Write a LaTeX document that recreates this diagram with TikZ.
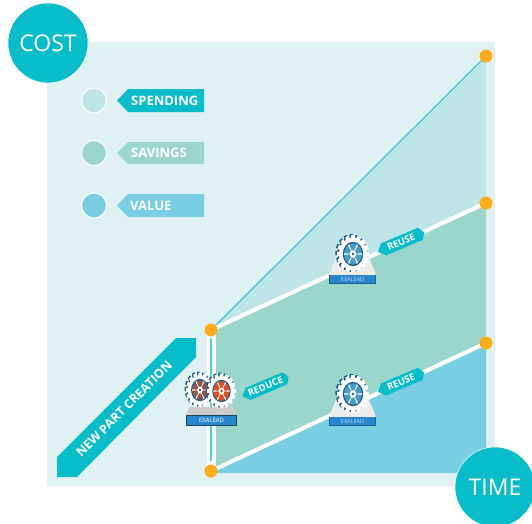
\documentclass[tikz,border=0pt]{standalone}
\usepackage{fontspec}
\setmainfont{Open Sans}
\usetikzlibrary{positioning}

\definecolor{paleback}{HTML}{E0F1F4}
\definecolor{spendcol}{HTML}{C0E5E9}
\definecolor{savecol}{HTML}{9BD6CC}
\definecolor{valuecol}{HTML}{79CEE4}
\definecolor{tealcol}{HTML}{08BDC9}
\definecolor{orangecol}{HTML}{FDAD1B}
\definecolor{gearblue}{HTML}{4A9AC6}
\definecolor{geardark}{HTML}{1F5F85}
\definecolor{gearred}{HTML}{D9502A}
\definecolor{barblue}{HTML}{2A86CC}

\tikzset{
  bigdisc/.style={circle, fill=tealcol, draw=white, line width=0.5pt, minimum size=80pt, inner sep=0pt, text=white, font=\fontsize{23}{23}\selectfont},
  swatch/.style={circle, draw=white, line width=1pt, minimum size=25pt, inner sep=0pt},
  dot/.style={circle, fill=orangecol, minimum size=13pt, inner sep=0pt},
  taglabel/.style={text=white, font=\fontsize{13}{14}\selectfont\bfseries},
  smalltag/.style={text=white, font=\fontsize{9.5}{10}\selectfont\bfseries},
  % one toothed wheel, radius 1 before scaling, #1 = colour of its middle
  wheel/.pic={
    \begin{scope}[shift={(-0.1,-0.05)}]
      \foreach \a in {0,22.5,...,337.5}
        \fill[geardark] (\a-10:0.8) -- (\a-6:1) -- (\a+6:1) -- (\a+10:0.8) -- cycle;
      \fill[geardark] (0,0) circle (0.85);
    \end{scope}
    \foreach \a in {0,22.5,...,337.5}
      \fill[white] (\a-10:0.8) -- (\a-6:1) -- (\a+6:1) -- (\a+10:0.8) -- cycle;
    \fill[white] (0,0) circle (0.86);
    \fill[geardark] (0,0) circle (0.64);
    \fill[#1] (0,0) circle (0.56);
    \foreach \a in {0,60,...,300}
      \fill[white] (\a-7:0.1) -- (\a-4:0.56) -- (\a+4:0.56) -- (\a+7:0.1) -- cycle;
    \fill[white] (0,0) circle (0.2);
    \fill[#1!60!black] (0,0) circle (0.08);
  },
  % drive under the wheels, origin at the middle of its lower edge
  drive/.pic={
    \fill[#1] (-23.5,-9) -- (-15.5,-29) -- (15.5,-29) -- (23.5,-9) -- cycle;
    \fill[barblue!70!black] (-23.5,-9.5) rectangle (23.5,0);
    \fill[barblue] (-22.5,-9.5) rectangle (22.5,-1);
    \node[text=white!70!barblue, font=\fontsize{5.5}{6}\selectfont] at (0,-4.8) {EXALEAD};
  },
  % same, lower and wider
  widedrive/.pic={
    \fill[#1] (-25.5,-11) -- (-22,-19) -- (22,-19) -- (25.5,-11) -- cycle;
    \fill[geardark!70!black] (-25.5,-11) rectangle (25.5,0);
    \fill[barblue] (-24.5,-10.5) rectangle (24.5,-1.5);
    \node[text=white, font=\fontsize{6}{7}\selectfont] at (0,-6) {EXALEAD};
  }
}

\begin{document}
\begin{tikzpicture}[x=1pt, y=-1pt]
\useasboundingbox (0,0) rectangle (532,523);

% Points of the three lines
\coordinate (startlow) at (211,471);
\coordinate (starthigh) at (211,330);
\coordinate (endvalue) at (486,343);
\coordinate (endsave) at (486,203);
\coordinate (endspend) at (486,56);

% Background and regions
\fill[paleback] (47,42) rectangle (495,486);
\fill[spendcol] (starthigh) -- (endspend) -- (endsave) -- cycle;
\fill[savecol] (starthigh) -- (endsave) -- (endvalue) -- (startlow) -- cycle;
\fill[valuecol] (startlow) -- (endvalue) -- (486,473) -- (213,473) -- cycle;

% Lines
\draw[white, line width=9pt] (starthigh) -- (startlow);
\draw[tealcol!70!white, line width=1.2pt, shorten <=8pt, shorten >=10pt] (starthigh) -- (startlow);
\draw[tealcol!40!valuecol, line width=1.4pt] (starthigh) -- (endspend);
\draw[white, line width=4pt] (starthigh) -- (endsave);
\draw[white, line width=4pt] (startlow) -- (endvalue);

% Dots
\foreach \p in {startlow,starthigh,endvalue,endsave,endspend}
  \node[dot] (dot\p) at (\p) {};

% Corner discs
\node[bigdisc] (cost) at (48,43) {COST};
\node[bigdisc] (time) at (495,487) {TIME};

% Legend
\node[swatch, fill=spendcol] (spendswatch) at (94,100.5) {};
\node[swatch, fill=savecol] (saveswatch) at (94,153) {};
\node[swatch, fill=valuecol] (valueswatch) at (94,205.5) {};
\fill[tealcol] (117,100.5) -- (128,89) -- (204,89) -- (204,112) -- (128,112) -- cycle;
\fill[savecol] (117,153) -- (128,142) -- (204,142) -- (204,164) -- (128,164) -- cycle;
\fill[valuecol] (117,205.5) -- (128,194) -- (204,194) -- (204,217) -- (128,217) -- cycle;
\node[taglabel, anchor=west, inner sep=0pt] (spendtag) at (131,100.5) {SPENDING};
\node[taglabel, anchor=west, inner sep=0pt] (savetag) at (131,153) {SAVINGS};
\node[taglabel, anchor=west, inner sep=0pt] (valuetag) at (130,205.5) {VALUE};

% Diagonal banner
\fill[tealcol] (176,338) -- (196,338) -- (196,357) -- (77,477) -- (57,477) -- (57,457) -- cycle;
\node[taglabel, rotate=45, font=\fontsize{12.5}{13}\selectfont\bfseries, inner sep=0pt] (newpart) at (124,409) {NEW PART CREATION};

% Icons
\pic at (352.5,284) {drive=gray!15};
\pic[xscale=16, yscale=19] at (353,254) {wheel=gearblue};
\pic at (352.5,426) {drive=gray!15};
\pic[xscale=16, yscale=19] at (353,394) {wheel=gearblue};
\pic at (211.5,426) {widedrive=gray!40};
\pic[xscale=14, yscale=17.5] at (200,390) {wheel=gearred!60!geardark};
\pic[xscale=14.5, yscale=17.5] at (221.5,391) {wheel=gearred};

% Small tags on the lines
\foreach \x/\y/\t/\n in {401/242/REUSE/reusehigh, 401/382/REUSE/reuselow, 265.5/386.5/REDUCE/reducetag} {
  \begin{scope}[shift={(\x,\y)}, rotate=23]
    \fill[tealcol] (-25,0) -- (-19,-6.5) -- (21,-6.5) -- (25,0) -- (21,6.5) -- (-19,6.5) -- cycle;
    \node[smalltag, rotate=23, inner sep=0pt] (\n) at (0,0) {\t};
  \end{scope}
}
\end{tikzpicture}
\end{document}
